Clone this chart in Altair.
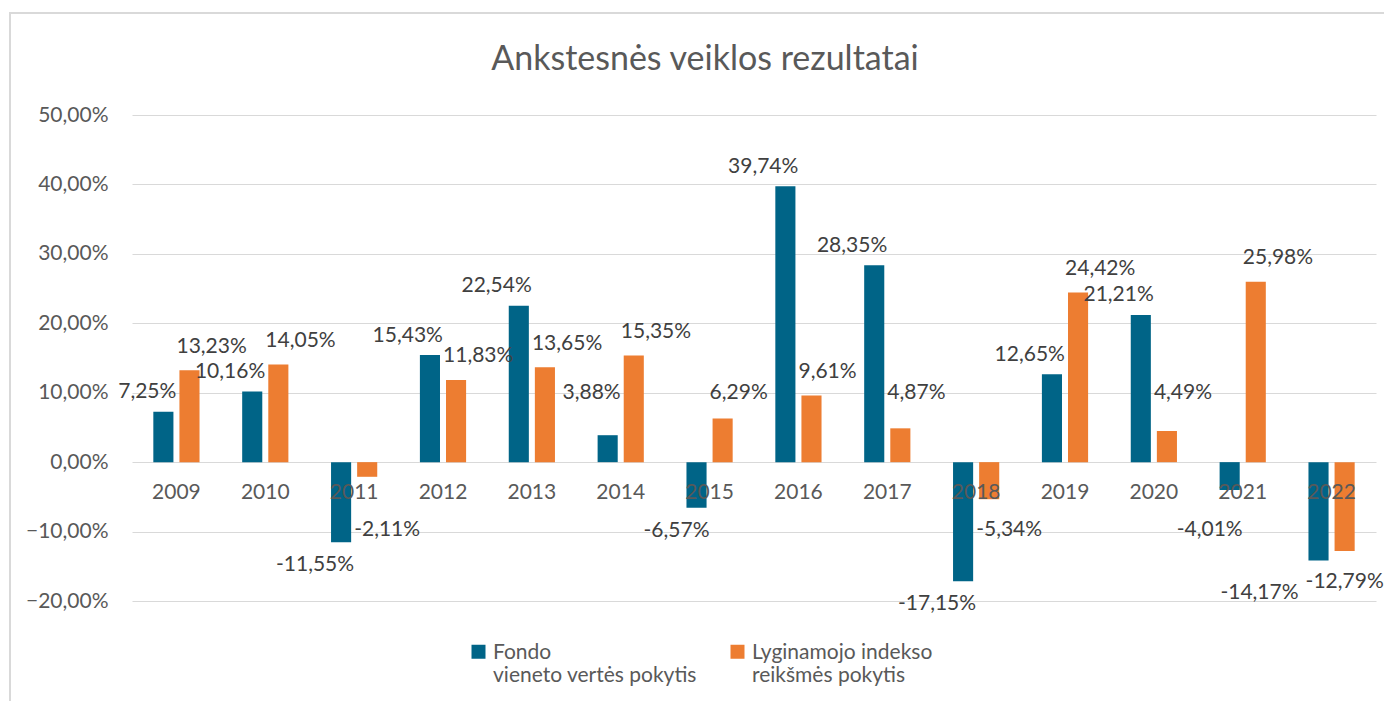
import altair as alt
import pandas as pd

years = ["2009", "2010", "2011", "2012", "2013", "2014", "2015",
         "2016", "2017", "2018", "2019", "2020", "2021", "2022"]
fund = [7.25, 10.16, -11.55, 15.43, 22.54, 3.88, -6.57,
        39.74, 28.35, -17.15, 12.65, 21.21, -4.01, -14.17]
index = [13.23, 14.05, -2.11, 11.83, 13.65, 15.35, 6.29,
         9.61, 4.87, -5.34, 24.42, 4.49, 25.98, -12.79]
series = ["Fondo\nvieneto vertės pokytis", "Lyginamojo indekso\nreikšmės pokytis"]
colors = ["#006487", "#ED7D31"]
y_ticks = [-20, -10, 0, 10, 20, 30, 40, 50]

rows = []
for s, vals in zip(series, [fund, index]):
    for y, v in zip(years, vals):
        rows.append({"year": y, "series": s, "value": v,
                     "label": f"{v:.2f}".replace(".", ",") + "%"})
df = pd.DataFrame(rows)

FONT = "Lato"
GREY = "#595959"

x_enc = alt.X("year:N", sort=years, axis=None,
              scale=alt.Scale(paddingInner=0.48, paddingOuter=0.24))
xo_enc = alt.XOffset("series:N", scale=alt.Scale(domain=series, paddingInner=0.23))
y_enc = alt.Y("value:Q", title=None,
              scale=alt.Scale(domain=[-20, 50], nice=False, zero=False),
              axis=alt.Axis(values=y_ticks, grid=True, gridColor="#d9d9d9",
                            gridWidth=1, domain=False, ticks=False,
                            labelExpr="replace(format(datum.value, '.2f'), '.', ',') + '%'",
                            labelFontSize=21, labelColor=GREY, labelFont=FONT,
                            labelPadding=24))

base = alt.Chart(df)

bars = base.mark_bar().encode(
    x=x_enc, xOffset=xo_enc, y=y_enc,
    color=alt.Color("series:N",
                    scale=alt.Scale(domain=series, range=colors),
                    legend=alt.Legend(orient="none", legendX=336, legendY=533,
                                      direction="horizontal", title=None,
                                      labelExpr="split(datum.label, '\\n')",
                                      labelFontSize=21, labelColor=GREY, labelFont=FONT,
                                      labelBaseline="alphabetic", labelLimit=500,
                                      symbolType="M-1,-2H1V0H-1Z", symbolSize=196,
                                      symbolStrokeWidth=0, labelOffset=4,
                                      columnPadding=30)),
)

# a year whose two bars are both negative and nearly equal gets its labels spread apart
CLOSE = "(datum.maxv < 0 && datum.maxv - datum.minv < 5)"

label_layers = []
for s, align, dx_expr, up, down in [
    (series[0], "right", f"{CLOSE} ? -20 : 13", 2.8, f"{CLOSE} ? 4.7 : 3.3"),
    (series[1], "left", f"{CLOSE} ? -39 : -13", 3.4, f"{CLOSE} ? 4.5 : 3.3"),
]:
    lyr = base.transform_joinaggregate(
        maxv="max(value)", minv="min(value)", groupby=["year"]
    ).transform_filter(alt.datum.series == s).transform_calculate(
        ly=f"datum.value >= 0 ? max(datum.value + {up}, 9.9) : min(datum.value - ({down}), -9.8)"
    ).mark_text(
        align=align, dx=alt.expr(dx_expr), baseline="middle",
        fontSize=21, font=FONT, color="#404040"
    ).encode(x=x_enc, xOffset=xo_enc, y=alt.Y("ly:Q"), text="label:N")
    label_layers.append(lyr)

year_labels = alt.Chart(pd.DataFrame({"year": years})).mark_text(
    dy=31, baseline="middle", fontSize=21, font=FONT, color=GREY
).encode(x=x_enc, y=alt.datum(0), text="year:N")

frame = alt.Chart(pd.DataFrame({"k": [0]})).mark_rect(
    fill=None, stroke="#d9d9d9", strokeWidth=2
).encode(x=alt.value(-122), x2=alt.value(1300), y=alt.value(-102), y2=alt.value(700))

chart = alt.layer(frame, bars, *label_layers, year_labels).properties(
    width=1244, height=486,
    autosize=alt.AutoSizeParams(type="none"),
    padding={"left": 124, "top": 107, "right": 8, "bottom": 100},
    title=alt.TitleParams("Ankstesnės veiklos rezultatai", fontSize=34, font=FONT,
                          color=GREY, fontWeight="normal", dx=-49, offset=-65),
).configure_view(stroke=None)

chart.save("out.html", embed_options={"renderer": "svg", "actions": False})
